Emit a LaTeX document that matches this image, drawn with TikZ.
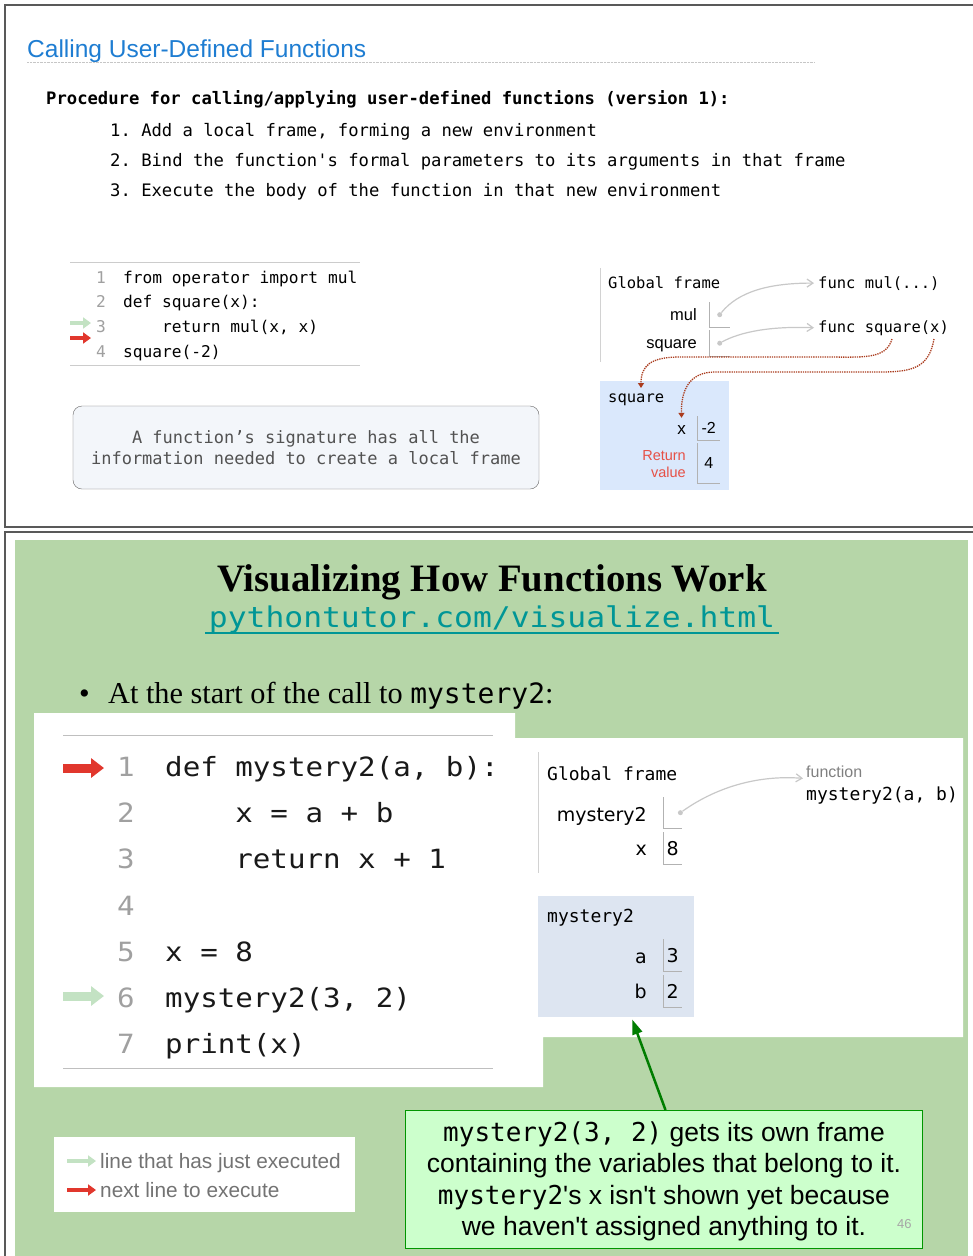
\documentclass[tikz,border=0pt]{standalone}
\usepackage{fontspec}
\setmainfont{Liberation Serif}
\setsansfont{Liberation Sans}
\setmonofont{DejaVu Sans Mono}
\newfontfamily\codemono[FakeStretch=1.1]{DejaVu Sans Mono}
\newfontfamily\framesans{DejaVu Sans}
\newfontfamily\callfont{Liberation Sans}
\usetikzlibrary{arrows.meta}

\definecolor{titleblue}{RGB}{30,125,210}
\definecolor{slidegreen}{RGB}{182,214,168}
\definecolor{urlteal}{RGB}{0,150,150}
\definecolor{numgray}{RGB}{160,160,160}
\definecolor{nextred}{RGB}{225,55,45}
\definecolor{doneegreen}{RGB}{195,226,195}
\definecolor{frameblue}{RGB}{218,232,252}
\definecolor{mysteryblue}{RGB}{221,229,241}
\definecolor{sigfill}{RGB}{243,246,250}
\definecolor{callfill}{RGB}{204,255,204}
\definecolor{calledge}{RGB}{0,150,0}
\definecolor{pointgreen}{RGB}{0,125,0}
\definecolor{calldotred}{RGB}{170,60,30}
\definecolor{retred}{RGB}{230,80,70}
\definecolor{refgray}{RGB}{200,200,200}

\tikzset{
	txt/.style={anchor=base west,inner sep=0pt},
	rtxt/.style={anchor=base east,inner sep=0pt},
	boxline/.style={draw=gray!60,line width=0.8pt},
	valbox/.style={anchor=north west,inner sep=0pt,minimum width=#1},
	dot/.style={circle,fill=refgray,inner sep=0pt,minimum size=5pt},
	heapref/.style={refgray,line width=1.2pt,-{Straight Barb[length=6pt,width=8pt]}},
	calldot/.style={calldotred,densely dotted,line width=1.3pt,-{Triangle[length=5pt,width=6pt]}},
	ptrsmall/.style={line width=4pt,-{Triangle[length=8pt,width=11pt]}},
	ptrbig/.style={line width=9pt,-{Triangle[length=13pt,width=19pt]}},
	vizmono/.style={font=\fontsize{15.5}{15.5}\selectfont\ttfamily},
	vizsans/.style={font=\fontsize{16.5}{16.5}\selectfont\sffamily},
	tutmono/.style={font=\fontsize{18}{18}\selectfont\ttfamily},
	tutsans/.style={font=\fontsize{19}{19}\selectfont\framesans},
}

\begin{document}
\begin{tikzpicture}[x=1pt,y=-1pt]
	\fill[white] (0,0) rectangle (973,1256);
	\useasboundingbox (0,0) rectangle (973,1256);
	\draw[gray!70!black,line width=1.2pt] (5,5) rectangle (990,527);
	\draw[gray!70!black,line width=1.6pt] (5,532) rectangle (990,1270);
	\fill[slidegreen] (15,540) rectangle (968,1256);

	\node[txt,text=titleblue,font=\fontsize{24.5}{24.5}\selectfont\sffamily] (title) at (27,57) {Calling User-Defined Functions};
	\draw[gray!45,densely dotted] (27,62.5) -- (815,62.5);
	\node[txt,font=\fontsize{17.2}{17.2}\selectfont\ttfamily\bfseries] (proc) at (46,104) {Procedure for calling/applying user-defined functions (version 1):};
	\foreach \i/\t in {1/{Add a local frame, forming a new environment},2/{Bind the function's formal parameters to its arguments in that frame},3/{Execute the body of the function in that new environment}}
		\node[txt,font=\fontsize{17.2}{17.2}\selectfont\ttfamily] (step\i) at (110,{136+30*(\i-1)}) {\i.\ \t};

	\draw[gray!40] (70,262) -- (360,262);
	\draw[gray!40] (70,365.5) -- (360,365.5);
	\foreach \n/\c in {1/{from operator import mul},2/{def square(x):},3/{\hphantom{xxxx}return mul(x, x)},4/{square(-2)}} {
		\node[rtxt,text=numgray,font=\fontsize{16.2}{16.2}\selectfont\ttfamily] (tn\n) at (106,{283+24.8*(\n-1)}) {\n};
		\node[txt,font=\fontsize{16.2}{16.2}\selectfont\ttfamily] (tc\n) at (123,{283+24.8*(\n-1)}) {\c};
	}
	\draw[ptrsmall,doneegreen] (70,323) -- (91,323);
	\draw[ptrsmall,nextred] (70,338) -- (91,338);

	\node[draw=gray!80!black,fill=sigfill,rounded corners=9pt,minimum width=466pt,minimum height=83pt] (sig) at (306,447.5) {};
	\node[anchor=base,text=black!68,font=\fontsize{17}{17}\selectfont\ttfamily] (sig1) at (306,443) {A function’s signature has all the};
	\node[anchor=base,text=black!68,font=\fontsize{17}{17}\selectfont\ttfamily] (sig2) at (306,464) {information needed to create a local frame};

	\draw[gray!35,line width=1pt] (600,268) -- (600,362);
	\node[txt,vizmono] (gf1) at (608,288) {Global frame};
	\node[rtxt,vizsans] (vmul) at (697,320) {mul};
	\node[rtxt,vizsans] (vsq) at (697,348) {square};
	\node[valbox=21pt,minimum height=25pt] (bmul) at (709,302) {};
	\node[valbox=21pt,minimum height=26pt] (bsq) at (709,330) {};
	\draw[boxline] (bmul.north west) |- (bmul.south east);
	\draw[boxline] (bsq.north west) |- (bsq.south east);
	\node[dot] (dmul) at (bmul.center) {};
	\node[dot] (dsq) at (bsq.center) {};
	\node[txt,vizmono] (fmul) at (818,288) {func mul(...)};
	\node[txt,vizmono] (fsq) at (818,332) {func square(x)};
	\draw[heapref] (dmul) .. controls (738,292) and (768,283) .. ([xshift=-4pt]fmul.west);
	\draw[heapref] (dsq) .. controls (740,332) and (770,326) .. ([xshift=-4pt]fsq.west);

	\node[fill=frameblue,anchor=north west,inner sep=0pt,minimum width=129pt,minimum height=109pt] (sqframe) at (600,381) {};
	\node[txt,vizmono] (sqname) at (608,402) {square};
	\node[rtxt,font=\fontsize{17}{17}\selectfont\sffamily] (vx) at (686,434) {x};
	\node[valbox=23pt,minimum height=24pt,font=\fontsize{16}{16}\selectfont\sffamily] (bx) at (697,416) {-2};
	\draw[boxline] (bx.north west) |- (bx.south east);
	\node[anchor=east,align=right,inner sep=0pt,text=retred,font=\fontsize{14.5}{17}\selectfont\sffamily] (vret) at (686,464) {Return\\value};
	\node[valbox=23pt,minimum height=40pt,font=\fontsize{16}{16}\selectfont\sffamily] (bret) at (697,443) {4};
	\draw[boxline] (bret.north west) |- (bret.south east);
	\coordinate (sqa) at (892,339);
	\coordinate (sqb) at (934,339);
	\draw[calldot] (sqa) .. controls (886,360) and (862,357) .. (825,357) -- (680,357) .. controls (650,357) and (641,366) .. ([xshift=41pt,yshift=-7pt]sqframe.north west);
	\draw[calldot] (sqb) .. controls (929,368) and (912,372) .. (880,372) -- (715,372) .. controls (688,372) and (681,392) .. ([yshift=7pt]vx.north);

	\node[anchor=base,font=\fontsize{38.8}{38.8}\selectfont\bfseries] (vtitle) at (492,591) {Visualizing How Functions Work};
	\node[anchor=base,text=urlteal,font=\fontsize{28.5}{28.5}\selectfont\codemono] (url) at (492,627) {pythontutor.com/visualize.html};
	\draw[urlteal,line width=2pt] ([yshift=-6pt]url.base west) -- ([yshift=-6pt]url.base east);
	\node[txt,font=\fontsize{30.3}{30.3}\selectfont] (bullet) at (79,703) {\textbullet};
	\node[txt,font=\fontsize{30.3}{30.3}\selectfont] (callstart) at (108,703) {At the start of the call to {\fontsize{28}{28}\selectfont\ttfamily mystery2}:};

	\fill[white] (34,713) -- (515,713) -- (515,738) -- (963,738) -- (963,1037) -- (543,1037) -- (543,1087) -- (34,1087) -- cycle;
	\draw[gray!50,line width=1pt] (63,735) -- (493,735);
	\draw[gray!50,line width=1pt] (63,1068) -- (493,1068);
	\foreach \n/\c in {1/{def mystery2(a, b):},2/{\hphantom{xxxx}x = a + b},3/{\hphantom{xxxx}return x + 1},4/{},5/{x = 8},6/{mystery2(3, 2)},7/{print(x)}} {
		\node[txt,text=numgray,font=\fontsize{26.5}{26.5}\selectfont\codemono] (cn\n) at (117,{776+46.33*(\n-1)}) {\n};
		\node[txt,text=black!90,font=\fontsize{26.5}{26.5}\selectfont\codemono] (cc\n) at (165,{776+46.33*(\n-1)}) {\c};
	}
	\draw[ptrbig,nextred] (63,768) -- (104,768);
	\draw[ptrbig,doneegreen] (63,996) -- (104,996);

	\draw[gray!35,line width=1pt] (538.5,752) -- (538.5,873);
	\node[txt,tutmono] (gf2) at (547,780) {Global frame};
	\node[rtxt,tutsans] (vm2) at (647,821) {mystery2};
	\node[rtxt,tutsans] (vx2) at (647,855) {x};
	\node[valbox=19pt,minimum height=31pt] (bm2) at (663,797) {};
	\node[valbox=19pt,minimum height=32pt,tutsans] (bx2) at (663,832) {8};
	\draw[boxline] (bm2.north west) |- (bm2.south east);
	\draw[boxline] (bx2.north west) |- (bx2.south east);
	\node[dot] (dm2) at ([xshift=-2pt]bm2.east) {};
	\node[txt,text=gray,font=\fontsize{16}{16}\selectfont\sffamily] (flab) at (806,777) {function};
	\node[txt,tutmono] (fm2) at (806,800) {mystery2(a, b)};
	\draw[heapref] (dm2) .. controls (718,786) and (760,775) .. ([xshift=-3pt,yshift=-1pt]flab.south west);

	\node[fill=mysteryblue,anchor=north west,inner sep=0pt,minimum width=156pt,minimum height=121pt] (m2frame) at (538,896) {};
	\node[txt,tutmono] (m2name) at (547,922) {mystery2};
	\node[rtxt,tutsans] (va) at (647,963) {a};
	\node[rtxt,tutsans] (vb) at (647,998) {b};
	\node[valbox=19pt,minimum height=32pt,tutsans] (ba) at (663,939) {3};
	\node[valbox=19pt,minimum height=32pt,tutsans] (bb) at (663,975) {2};
	\draw[boxline] (ba.north west) |- (ba.south east);
	\draw[boxline] (bb.north west) |- (bb.south east);

	\node[fill=white,anchor=north west,inner sep=0pt,minimum width=301pt,minimum height=75pt] (legend) at (54,1137) {};
	\draw[ptrsmall,doneegreen] (67,1161) -- (96,1161);
	\draw[ptrsmall,nextred] (67,1190) -- (96,1190);
	\node[txt,text=gray!90!black,font=\fontsize{20.8}{20.8}\selectfont\sffamily] (ljust) at (100,1168) {line that has just executed};
	\node[txt,text=gray!90!black,font=\fontsize{20.8}{20.8}\selectfont\sffamily] (lnext) at (100,1197) {next line to execute};

	\node[draw=calledge,fill=callfill,line width=1pt,anchor=north west,inner sep=0pt,minimum width=517pt,minimum height=138pt] (callout) at (405,1110) {};
	\foreach \k/\t in {1/{{\fontsize{26}{26}\selectfont\ttfamily mystery2(3, 2)} gets its own frame},2/{containing the variables that belong to it.},3/{{\fontsize{26}{26}\selectfont\ttfamily mystery2}'s x isn't shown yet because},4/{we haven't assigned anything to it.}}
		\node[anchor=base,font=\fontsize{26.5}{26.5}\selectfont\callfont] (note\k) at (664,{1141+31.5*(\k-1)}) {\t};
	\node[txt,text=gray!70,font=\fontsize{13}{13}\selectfont\sffamily] (pageno) at (897,1228) {46};
	\draw[pointgreen,line width=2.5pt,-{Triangle[length=15pt,width=10pt]}] ([xshift=1.5pt]callout.north) -- ([xshift=16pt,yshift=-2pt]m2frame.south);
\end{tikzpicture}
\end{document}
